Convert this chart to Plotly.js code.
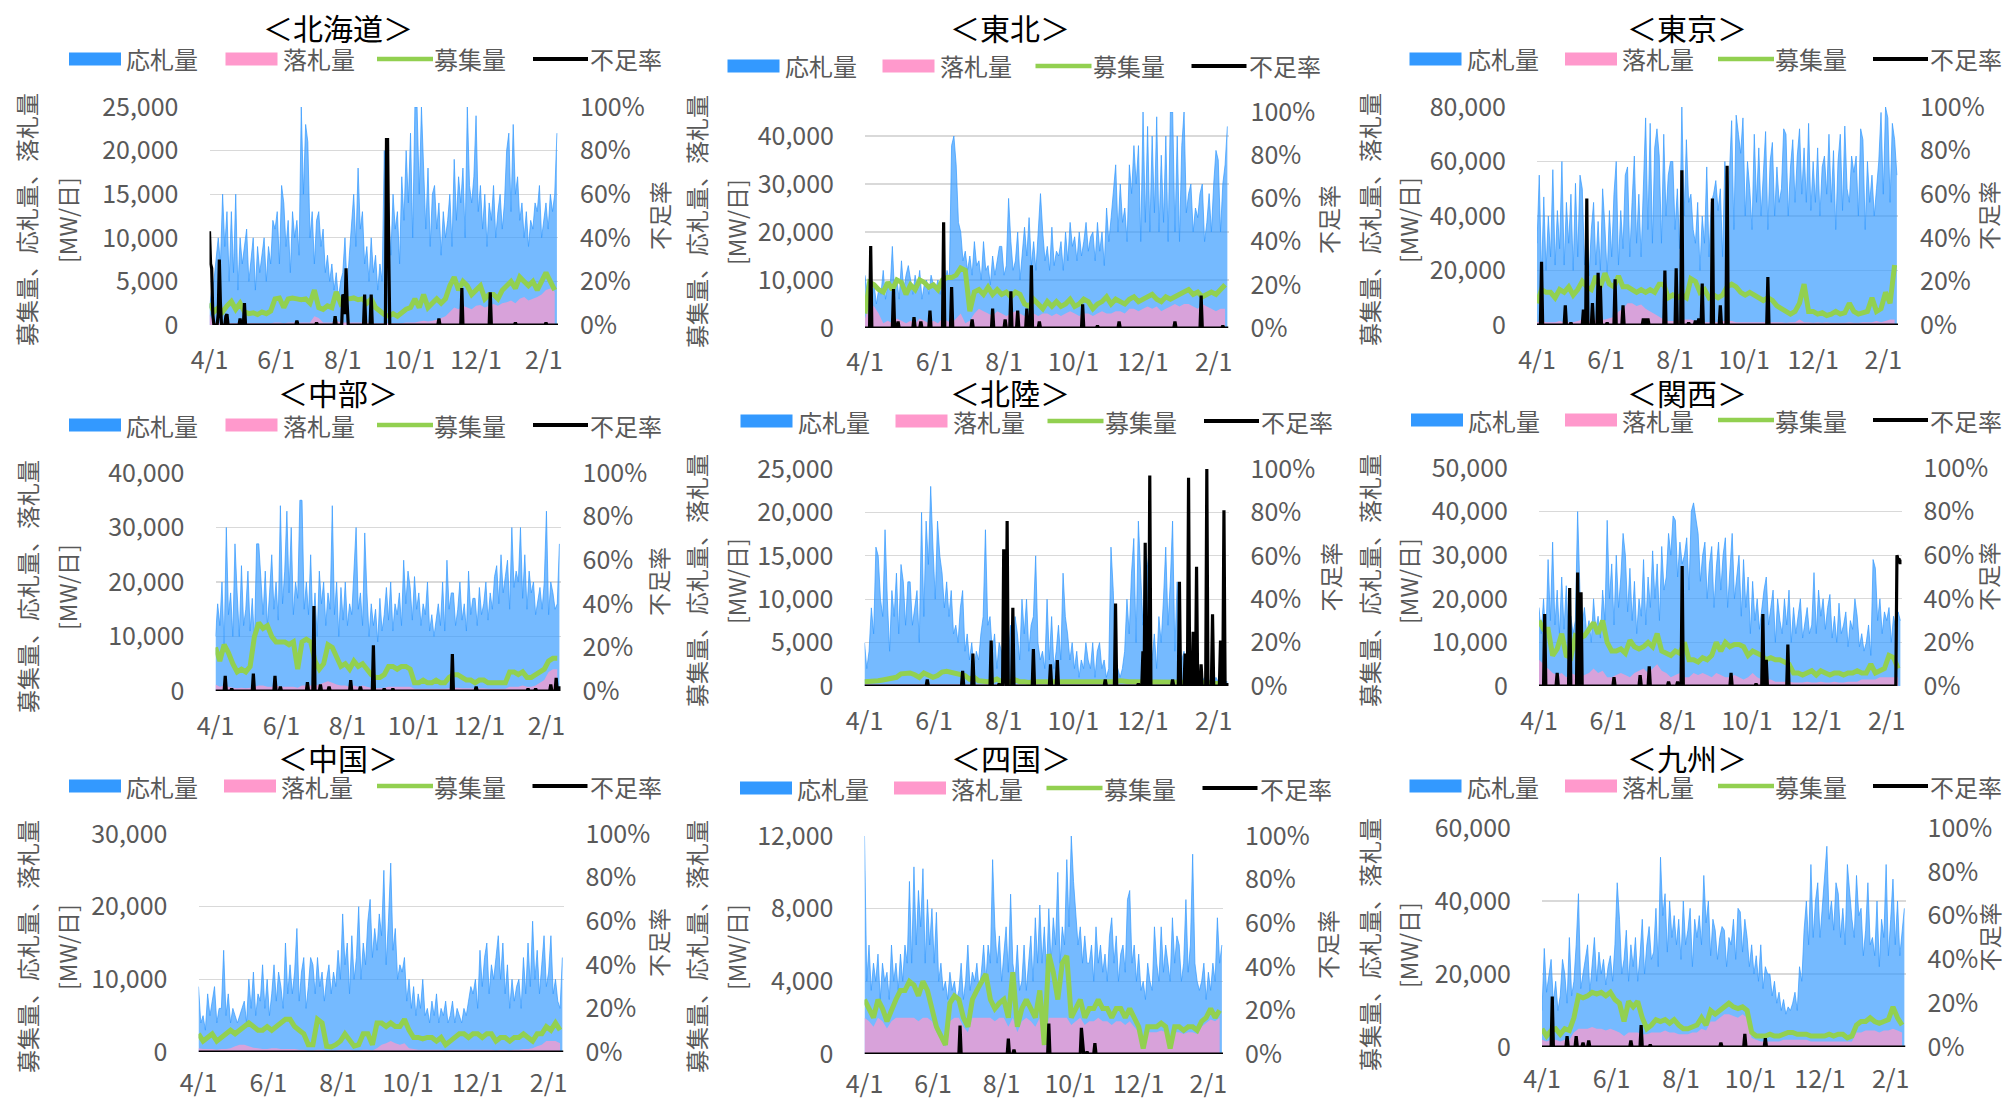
<!DOCTYPE html>
<html>
<head>
<meta charset="utf-8">
<script src="https://cdn.plot.ly/plotly-3.0.1.min.js"></script>
<style>
html,body{margin:0;padding:0;background:#ffffff;}
#chart{width:2009px;height:1099px;}
</style>
</head>
<body>
<div id="chart"></div>
<script>
// ---------------- DATA ----------------
// Period: 2021-04-01 .. 2022-02-14
// *Bid  (応札量)  : thousand MW/day, one value every 2 days from 4/1
// *Award(落札量)  : thousand MW/day, one value every 4 days from 4/1
// *Req  (募集量)  : thousand MW/day, one value every 4 days from 4/1
// *ShortDay / *ShortPct (不足率): days after 4/1 with a non-zero shortage rate, and that rate in %
const periodStart = '2021-04-01';
const periodEnd = '2022-02-14';
const periodDays = 320;
const tickDates = ['2021-04-01','2021-06-01','2021-08-01','2021-10-01','2021-12-01','2022-02-01'];
const tickLabels = ['4/1','6/1','8/1','10/1','12/1','2/1'];
const seriesNames = ['応札量','落札量','募集量','不足率'];
const regionNames = ['北海道','東北','東京','中部','北陸','関西','中国','四国','九州'];
const leftAxisTitle = ['募集量、応札量、落札量','[MW/日]'];
const rightAxisTitle = '不足率';

// 北海道
const hokkaidoBid = [
 2,4,5,8,10,7,15,9,13,5, 13,6,15,4,10,7,9,11,5,8, 10,4,9,6,8,10,5,9,7,12, 11,13,7,16,14,9,12,6,13,10,
 12,8,25,15,23,21,10,13,7,12, 13,9,11,6,8,5,7,4,6,3, 5,6,10,4,8,12,15,9,18,11, 13,7,9,5,10,6,8,4,7,5,
 20,9,14,8,15,11,13,7,17,12, 20,14,22,10,25,25,15,25,18,11, 18,9,15,16,11,14,8,13,10,12, 15,9,19,12,17,14,18,10,25,16,
 14,17,24,13,16,11,15,9,14,12, 16,10,13,15,11,14,20,22,13,23, 15,17,12,14,10,13,9,12,11,14, 13,16,10,12,14,11,15,13,15,22];
const hokkaidoAward = [
 1.2,0.3,0.2,0.2,0.3,0.2,0.2,0.3,0.2,0.2, 0.2,0.2,0.2,0.2,0.2,0.3,0.3,0.2,0.3,0.3,
 0.3,0.3,0.3,0.3,1.0,0.8,0.3,0.3,0.3,0.5, 0.3,0.3,0.3,0.3,0.3,0.3,0.3,0.3,0.2,0.2,
 0.2,0.2,0.2,0.2,0.2,0.3,0.3,0.3,0.4,0.5, 0.4,0.5,0.6,0.8,1.0,1.5,2.0,1.8,2.2,2.0,
 1.8,2.2,2.3,2.0,2.2,2.4,2.2,2.5,2.6,2.8, 2.5,3.0,3.2,2.8,3.0,3.2,3.5,4.0,4.2,3.8];
const hokkaidoReq = [
 2.5,1.5,2.0,1.5,2.2,2.7,1.8,2.5,1.5,1.3, 1.4,1.2,1.5,1.3,1.6,3.0,3.1,2.0,3.0,3.1,
 3.0,2.9,3.0,2.5,4.0,2.0,1.8,2.2,2.0,3.8, 2.5,3.0,3.0,3.1,2.9,3.0,2.5,3.0,2.0,1.5,
 1.2,1.0,1.3,1.0,1.5,1.8,2.0,3.0,2.0,3.5, 2.0,2.5,3.0,2.5,3.0,4.5,5.5,4.0,5.0,4.5,
 3.5,4.0,4.5,3.0,3.5,3.5,3.0,4.0,4.5,5.0, 4.2,5.5,5.0,4.5,5.0,4.0,5.0,6.0,5.0,4.0];
const hokkaidoShortDay = [0,1,2,3,8,9,10,15,16,28,32,80,98,115,122,123,124,125,126,142,148,162,163,164,210,231,257,280,308];
const hokkaidoShortPct = [43,28,26,5,5,30,10,4,5,3,10,2,1,4,14,13,5,26,10,14,14,85,85,35,3,17,15,1,1];

// 東北
const tohokuBid = [
 11,7,10,6,9,5,8,7,12,6, 9,8,17,7,10,6,14,8,11,13, 10,7,11,8,12,6,9,10,7,11, 9,8,10,7,11,9,12,10,38,40,
 34,22,20,14,16,12,15,11,18,13, 14,10,18,12,13,9,15,11,14,17, 17,11,13,27,18,12,14,20,10,15, 21,15,23,13,18,12,19,28,20,14,
 17,12,21,13,16,15,18,12,20,14, 22,17,19,14,20,15,18,22,16,19, 20,14,22,16,20,13,25,18,23,28, 34,20,30,22,25,18,34,28,38,30,
 38,18,45,22,42,20,40,24,44,20, 36,22,40,18,45,45,20,40,18,38, 45,24,28,30,20,25,23,28,30,18, 22,28,20,30,37,35,20,30,34,42];
const tohokuAward = [
 2.0,5.0,4.5,3.0,1.0,1.5,1.0,2.0,1.5,1.0, 1.5,1.0,2.0,1.5,1.0,1.5,1.0,2.0,1.5,1.0,
 2.0,3.0,1.0,1.5,3.0,4.0,3.5,3.0,2.5,3.5, 3.0,2.5,3.0,3.5,3.0,2.5,3.0,3.0,2.5,3.0,
 3.0,2.5,3.0,2.5,3.0,3.5,3.0,2.5,3.0,3.0, 2.5,3.0,3.5,3.0,3.0,3.5,3.5,3.0,4.0,4.0,
 3.5,4.0,4.5,4.0,4.5,3.5,4.0,4.5,5.0,4.5, 5.0,5.0,4.5,4.0,5.0,4.5,4.0,3.5,4.0,4.0];
const tohokuReq = [
 3.0,9.5,9.0,8.0,7.5,9.5,8.0,10.0,9.5,7.0, 9.0,8.0,10.0,9.5,8.5,9.0,8.0,10.0,10.5,10.5,
 11.0,12.5,12.0,3.5,7.5,8.0,7.0,8.5,7.0,8.0, 7.0,7.5,6.5,7.5,7.0,5.0,4.5,6.0,5.0,4.0,
 5.5,4.5,5.5,4.5,5.0,6.0,4.5,5.0,6.0,5.5, 4.0,5.0,5.5,6.5,5.0,6.0,5.5,5.0,6.0,6.5,
 5.5,6.0,6.5,7.0,6.0,5.5,6.5,6.0,6.5,7.0, 7.5,8.0,7.0,7.5,6.5,7.0,7.5,7.0,8.0,9.0];
const tohokuShortDay = [5,25,29,43,49,57,69,76,94,112,123,128,134,142,146,153,191,204,223,272,295,314];
const tohokuShortPct = [38,18,3,5,3,8,49,19,4,9,4,17,8,9,29,3,11,1,3,3,15,1];

// 東京
const tokyoBid = [
 30,55,18,47,20,40,25,57,22,42, 28,60,22,45,30,48,20,52,25,55, 50,22,40,18,35,45,22,38,20,50, 36,18,42,25,48,60,22,42,28,55,
 58,25,45,62,30,48,25,55,76,35, 74,30,65,72,62,30,70,40,55,60, 60,35,50,28,80,40,68,45,48,35, 30,45,20,40,30,58,25,45,48,53,
 42,50,25,60,40,55,75,35,77,70, 63,76,40,60,50,35,70,45,65,40, 55,71,35,60,67,40,58,45,50,72, 70,40,58,68,45,62,72,48,65,45,
 74,42,60,45,65,40,58,62,48,70, 45,64,35,60,70,42,73,50,45,62, 56,62,40,72,68,35,60,45,55,40, 50,60,78,48,80,76,45,74,68,55];
const tokyoAward = [
 1,1.5,1,1,1,1.5,1,1,1,1.5, 2,1.5,1.5,2,2,2,2.5,3,5,6,
 8,8,7,7.5,6,5,4,3,2,1.5, 1.5,1.5,2,2,2,1.5,1,1,1,1,
 1,1.5,1.5,1.5,1,1,1,1,1,1, 1,1,1,1,1,0.8,1,1,2,1,
 1,0.8,1,0.8,1,0.8,0.8,0.8,0.8,1, 0.8,0.8,1,1,1,1.5,1,1.5,2,2];
const tokyoReq = [
 8,13,12,12,10,13,12,14,11,13, 16,14,13,18,14,19,15,14,18,14,
 14,13,12,13,12,13,12,15,15,10, 11,10,11,10,17,16,12,13,10,11,
 10,11,14,15,14,12,11,12,11,10, 9,10,9,7,6,4.5,4,5,8,15,
 5,5,4,4.5,3.5,4,5,4,4.5,8, 5,4,4.5,5,10,5,6,12,8,22];
const tokyoShortDay = [4,25,30,41,44,49,54,56,62,69,76,94,96,98,113,123,128,134,140,143,146,155,162,168,204];
const tokyoShortPct = [29,9,1,7,58,10,24,18,1,21,9,3,3,3,25,26,71,1,2,3,19,58,9,73,22];

// 中部
const chubuBid = [
 10,16,12,20,8,30,14,18,10,27, 18,10,23,12,15,22,11,17,9,27, 27,20,14,22,12,18,25,15,20,13, 34,16,22,33,18,30,14,20,17,35,
 35,15,20,14,25,12,18,10,22,16, 20,12,18,15,34,14,20,10,19,13, 20,12,16,14,22,30,15,18,12,29, 18,10,16,12,15,9,17,11,14,19,
 13,20,11,16,14,18,12,24,16,22, 19,13,21,15,18,12,16,14,20,11, 14,10,13,16,12,20,11,24,15,18, 18,12,15,20,13,16,11,22,14,17,
 17,12,19,14,16,20,13,18,15,21, 23,16,25,18,21,24,15,30,19,22, 20,30,17,25,15,22,18,20,14,17, 19,15,20,33,14,20,18,15,16,27];
const chubuAward = [
 1.2,0.8,1.0,0.8,0.6,0.5,0.6,0.5,0.6,0.8, 1.0,1.0,0.8,0.8,1.0,0.8,0.8,0.8,0.8,0.6,
 1.0,1.0,1.0,1.0,1.2,1.5,1.8,1.5,1.2,1.0, 1.0,0.8,1.0,0.8,1.0,0.8,0.6,0.5,0.5,0.6,
 0.8,0.8,0.8,0.8,0.8,0.8,0.4,0.4,0.4,0.4, 0.4,0.4,0.4,0.4,0.5,0.6,0.6,0.5,0.5,0.5,
 0.4,0.5,0.5,0.4,0.4,0.4,0.4,0.4,0.8,0.8, 0.8,1.0,0.8,0.8,1.0,1.5,2.0,3.5,4.0,4.0];
const chubuReq = [
 8.0,5.5,8.5,7.0,5.0,3.5,4.0,3.5,4.5,10.0, 12.5,11.5,12.0,10.0,9.0,9.0,9.0,8.5,9.0,4.0,
 9.0,9.5,9.0,5.5,4.0,5.0,8.5,8.0,6.0,4.5, 5.0,4.0,5.5,4.5,5.0,4.0,3.0,2.5,2.5,3.0,
 4.5,4.5,4.0,4.5,4.5,4.0,1.5,1.5,2.0,1.5, 1.5,2.0,1.5,1.5,2.5,3.0,3.0,2.5,2.0,2.0,
 1.5,2.0,2.0,1.5,1.5,1.5,1.5,1.5,3.5,3.5, 3.0,3.5,2.5,2.5,3.0,3.5,4.0,5.5,6.0,6.0];
const chubuShortDay = [9,15,35,55,60,85,91,97,105,125,134,146,156,164,219,241,289,296,310,315,318];
const chubuShortPct = [7,1,8,7,2,4,39,3,2,5,2,21,1,1,17,2,1,1,3,6,2];

// 北陸
const hokurikuBid = [
 5,2,4,9,6,16,15,10,8,18, 10,4,11,8,13,6,14,12,7,12, 12,7,9,11,5,20,8,19,14,23, 16,10,19,15,13,9,12,8,11,6,
 7,5,9,11,4,6,3,5,2,4, 3,6,8,18,7,8,4,6,2,5, 4,2,5,3,7,4,8,6,3,10, 6,10,4,7,8,15,5,3,4,2,
 10,3,8,2,4,7,3,13,8,6, 3,5,2,4,1,3,2,5,3,2, 5,1,4,5,2,3,1,2,16,11, 3,2,1,2,4,10,6,13,17,5,
 19,13,7,16,14,4,3,6,2,8, 5,10,16,7,12,19,4,12,5,3, 4,2,3,1,2,1,2,1,0.5,1, 1,0.5,1,0.5,1,0.5,0.5,1,0.5,0.5];
const hokurikuAward = [
 0.2,0.2,0.2,0.2,0.2,0.2,0.2,0.2,0.2,0.2, 0.2,0.2,0.2,0.2,0.2,0.2,0.2,0.2,0.2,0.2,
 0.2,0.2,0.2,0.2,0.2,0.2,0.2,0.2,0.2,0.2, 0.2,0.2,0.2,0.2,0.2,0.2,0.2,0.2,0.2,0.2,
 0.2,0.2,0.2,0.2,0.2,0.2,0.2,0.2,0.2,0.2, 0.2,0.2,0.2,0.2,0.2,0.2,0.2,0.2,0.2,0.2,
 0.2,0.2,0.2,0.2,0.2,0.2,0.2,0.2,0.2,0.2, 0.2,0.2,0.2,0.2,0.2,0.2,0.2,0.2,0.2,0.2];
const hokurikuReq = [
 0.5,0.5,0.5,0.6,0.7,0.8,0.8,1.0,1.4,1.5, 1.5,1.3,1.0,1.5,1.3,1.0,1.2,1.6,1.7,1.6,
 1.5,1.4,1.2,0.8,1.0,0.6,0.5,0.5,0.6,0.8, 0.5,0.5,0.5,0.7,0.5,0.5,0.4,0.5,0.5,0.5,
 0.5,0.4,0.5,0.5,0.4,0.5,0.5,0.5,0.4,0.5, 0.5,0.5,0.4,0.5,0.5,0.5,0.6,0.5,0.5,0.5,
 0.5,0.5,0.4,0.5,0.5,0.5,0.5,0.4,0.5,0.5, 0.4,0.5,0.5,0.4,0.4,0.4,0.3,0.3,0.3,0.3];
const hokurikuShortDay = [55,86,95,111,118,122,123,125,130,148,163,169,211,220,240,244,246,250,270,276,281,284,288,291,295,300,305,312,315,318];
const hokurikuShortPct = [3,7,15,21,1,63,10,76,36,17,10,12,3,38,1,16,66,97,3,48,15,96,25,55,10,100,33,21,81,1];

// 関西
const kansaiBid = [
 18,12,20,10,29,15,33,14,22,12, 25,13,23,10,16,12,15,40,22,14, 18,12,15,10,20,13,16,11,22,15, 38,20,28,14,30,18,25,35,30,17,
 27,15,24,12,20,16,29,14,25,18, 31,20,28,15,32,22,25,35,30,39, 38,25,33,28,30,34,22,40,42,38, 35,24,30,33,20,28,32,18,27,33,
 22,30,34,18,28,35,20,26,30,16, 29,18,25,12,24,15,20,13,18,22, 25,14,18,22,10,20,15,12,20,14, 22,10,18,12,16,20,11,15,18,12,
 14,26,12,22,16,20,13,18,21,11, 16,10,19,12,14,17,9,15,13,20, 16,9,12,8,10,14,7,29,27,15, 20,12,17,15,18,10,16,13,17,15];
const kansaiAward = [
 6,5,4,3,2.5,3,2,3,2.5,2, 2.5,3,4,3,3.5,2,2,2.5,3,2.5,
 2,3,3.5,4,3,4,5,3.5,3,2, 2.5,3,2,2,3,2.5,3,2.5,2,3,
 2.5,2,2,2.5,2,1.5,2,3,2,1.5, 1.5,1.5,1,1,1,1,0.8,0.8,0.8,1,
 0.8,0.8,1,0.8,0.8,1,0.8,0.8,1,1, 1,1.5,1.5,1.5,1.5,2,2,2,2,2];
const kansaiReq = [
 15,13,13,7,8.5,12,7,6.5,11.5,11, 11.5,13,14.5,12,15,10,8,8,8.5,7.5,
 10.5,9,8.5,9,10,9,12,8,7.5,7, 8,7.5,10,6,6,5.5,6.5,6,7,10,
 8,10,9,9.5,9.5,9,7,8,7.5,7, 6,6.5,6,6,5.5,5,3,3,2.5,3,
 3.5,2.5,3.5,3,2.5,3,3,2.5,3,3, 3.5,3,3,5,3,3.5,4,7,6.5,4];
const kansaiShortDay = [5,16,27,34,37,66,89,97,114,122,126,169,191,197,200,219,315,316,317,318,319];
const kansaiShortPct = [33,6,45,52,43,4,5,9,2,2,55,6,1,33,12,19,60,58,58,56,58];

// 中国
const chugokuBid = [
 9,4,5,3,8,5,7,9,4,6, 6,14,5,8,4,6,5,4,5,6, 7,4,10,6,11,5,8,7,12,6, 10,5,8,12,7,11,9,6,15,8,
 12,8,11,17,7,11,13,6,9,13, 12,8,13,9,11,7,10,12,8,11, 9,14,10,19,12,15,8,16,10,13, 20,10,15,12,18,21,13,17,14,19,
 16,25,12,18,26,14,17,10,12,11, 13,7,10,6,9,5,8,6,10,5, 6,4,7,5,8,4,6,5,7,4, 5,7,4,6,5,4,6,5,7,9,
 8,10,6,14,9,13,15,8,12,10, 13,16,10,15,8,12,6,10,7,9, 10,6,13,8,15,9,18,10,14,8, 12,16,9,11,16,8,10,7,6,13];
const chugokuAward = [
 0.5,0.4,0.4,0.4,0.3,0.4,0.4,0.5,0.8,1.0, 1.0,0.8,0.6,0.5,0.4,0.4,0.5,0.5,0.4,0.4,
 0.4,0.4,0.3,0.3,0.2,0.2,0.3,0.3,0.2,0.2, 0.2,0.3,0.3,0.3,0.2,0.2,0.3,0.3,0.2,0.5,
 1.0,1.2,1.5,1.2,1.0,1.2,0.5,0.4,0.3,0.3, 0.3,0.3,0.3,0.3,0.2,0.3,0.3,0.3,0.3,0.3,
 0.3,0.3,0.3,0.3,0.3,0.2,0.3,0.3,0.2,0.3, 0.3,0.4,0.4,0.5,0.8,1.0,1.5,1.5,1.5,1.2];
const chugokuReq = [
 2.5,1.5,2.0,2.5,1.5,2.0,2.5,3.0,2.5,3.0, 3.5,4.0,3.5,3.0,3.0,3.5,3.0,3.5,4.0,4.5,
 4.5,3.5,3.0,2.5,1.0,1.0,4.5,4.0,0.8,0.7, 1.0,1.5,2.5,1.5,0.8,1.0,2.5,2.5,1.0,4.0,
 4.0,3.5,4.0,3.5,3.5,4.5,3.0,2.0,2.0,1.8, 2.0,2.0,1.5,2.0,1.0,1.5,2.0,2.5,2.5,2.0,
 2.5,2.5,2.0,2.5,2.5,1.5,2.0,2.0,1.5,2.0, 2.0,2.5,2.0,1.5,2.5,2.5,3.5,3.0,4.0,3.0];
const chugokuShortDay = [];
const chugokuShortPct = [];

// 四国
const shikokuBid = [
 12,4,6,3.5,5,4,5.5,3,5,4, 4.5,3,6,4,5,3.5,5.5,4,6,5, 9.5,5,10.3,6,9,7,10.2,5,8.5,6, 8,5,7.8,4,5,3.5,4,3,4.5,3.5,
 4,3,3.5,5,3,4,6,3.5,4.5,4, 5,3.5,4.5,6,4,6,5,10.7,7,5, 6.5,4,5.5,7,4.5,8.8,5,4,6,3.5, 4,6,3.5,5,6.5,4,7.5,5,8.2,5,
 7,4.5,8,5,7.5,6,10,5,7,6, 10.7,7,12,9.5,8,6,7,5,6.5,5, 5,6,4,7,5,6,4.5,5.5,4,6.5, 7.5,5,6.5,4,5.5,6,4.5,8.5,9,5,
 6,4,5.5,3.5,4,3,5,4,3.5,7, 5,4,7,4.5,6,5,4,7.5,5,6.5, 6,4,5,8.5,4.5,6,11,5,4,3.5, 4,5,3,4.5,3.5,5,4,7.5,5,6];
const shikokuAward = [
 2.0,1.8,1.5,2.0,1.8,1.4,1.8,2.0,2.0,2.0, 2.0,2.0,1.8,2.0,2.0,1.8,1.2,0.8,0.4,1.8,
 2.0,2.0,1.5,1.2,2.0,2.0,2.0,2.0,2.0,1.8, 2.0,2.0,1.5,2.0,1.2,1.8,2.0,1.8,1.5,2.0,
 0.4,2.0,2.0,2.0,2.0,2.0,1.6,1.8,2.0,1.6, 1.8,1.8,2.0,1.8,1.8,1.6,1.8,1.8,1.6,1.8,
 1.5,1.2,0.3,1.2,1.2,1.2,1.3,1.2,0.3,1.2, 1.2,1.1,1.2,1.2,1.1,1.5,1.7,1.9,1.8,2.0];
const shikokuReq = [
 3.0,2.5,2.0,3.0,2.5,1.8,2.5,3.0,3.5,3.5, 4.0,3.8,3.2,4.0,3.5,2.5,1.5,1.0,0.5,2.8,
 3.2,3.0,2.0,1.5,3.0,3.5,4.0,4.4,3.0,2.5, 2.8,3.0,2.0,4.5,1.5,2.5,3.0,2.5,2.0,3.5,
 0.5,5.5,4.5,3.0,5.0,5.4,2.0,2.5,3.0,2.0, 2.5,2.5,3.0,2.5,2.5,2.0,2.5,2.5,2.0,2.5,
 2.0,1.5,0.3,1.5,1.5,1.5,1.7,1.5,0.3,1.5, 1.5,1.3,1.5,1.5,1.3,1.8,2.0,2.5,2.0,2.4];
const shikokuShortDay = [85,128,133,164,193,194,198,205];
const shikokuShortPct = [13,7,2,14,12,3,1,5];

// 九州
const kyushuBid = [
 10,27,15,20,24,12,18,10,14,24, 20,12,30,14,18,28,42,16,20,25, 28,15,22,30,18,26,20,24,17,22, 25,18,28,45,35,20,24,32,18,28,
 22,30,18,25,35,20,28,33,24,26, 38,22,52,36,42,26,40,30,36,28, 35,24,40,28,32,38,22,35,30,36, 28,47,34,40,25,35,32,24,30,33,
 32,22,30,28,35,24,38,37,26,35, 30,22,28,20,25,18,28,16,22,20, 20,14,18,12,15,10,13,9,11,10, 12,15,10,22,18,32,40,28,50,30,
 40,45,30,38,48,55,35,40,32,45, 42,30,38,28,50,42,35,30,47,36, 38,25,32,45,28,30,25,40,22,35, 30,50,25,35,46,28,40,25,32,38];
const kyushuAward = [
 2,1.5,2,2,1.5,2,2,4,5,5, 5,5.5,5,5,4.5,5,4.5,4,3,4,
 4,4,3.5,3.5,4,4,4,4.5,4,4, 3.5,3.5,3.5,4,4,5,4.5,7,7,8,
 9,9,8.5,8,9,8,2.5,2,1.5,1.5, 1.5,1.5,1.5,2,2,2,2,2,2,1.5,
 1.5,1.5,1.5,1.5,1.5,1.5,1.5,1.5,1.5,4, 4,4.5,4.5,4.5,4,4.5,4.5,5,4.5,4];
const kyushuReq = [
 5,3,4.5,5,3.5,5,4.5,8,14,13.5, 14,15,14.5,15,14,15,13,12,7,12.5,
 11,12.5,8,5,6,7.5,7,7.5,6.5,7.5, 6,5,5,5.5,6,8,6,10,9,10,
 11,12,11,10.5,11,10,4,3,3,3, 3.5,3,3,3.5,4,4,3.5,3.5,3.5,3,
 3,3,3,3.5,3,3.5,3.5,2.5,3,6, 7,7,8,7,6.5,7,7.5,11,8,6];
const kyushuShortDay = [9,22,30,36,41,78,87,95,157,178,196];
const kyushuShortPct = [23,5,5,2,3,3,10,1,2,6,4];

const regions = [
 {bid:hokkaidoBid, award:hokkaidoAward, req:hokkaidoReq, sd:hokkaidoShortDay, sp:hokkaidoShortPct},
 {bid:tohokuBid,   award:tohokuAward,   req:tohokuReq,   sd:tohokuShortDay,   sp:tohokuShortPct},
 {bid:tokyoBid,    award:tokyoAward,    req:tokyoReq,    sd:tokyoShortDay,    sp:tokyoShortPct},
 {bid:chubuBid,    award:chubuAward,    req:chubuReq,    sd:chubuShortDay,    sp:chubuShortPct},
 {bid:hokurikuBid, award:hokurikuAward, req:hokurikuReq, sd:hokurikuShortDay, sp:hokurikuShortPct},
 {bid:kansaiBid,   award:kansaiAward,   req:kansaiReq,   sd:kansaiShortDay,   sp:kansaiShortPct},
 {bid:chugokuBid,  award:chugokuAward,  req:chugokuReq,  sd:chugokuShortDay,  sp:chugokuShortPct},
 {bid:shikokuBid,  award:shikokuAward,  req:shikokuReq,  sd:shikokuShortDay,  sp:shikokuShortPct},
 {bid:kyushuBid,   award:kyushuAward,   req:kyushuReq,   sd:kyushuShortDay,   sp:kyushuShortPct}
];
const axisMax = [25000,45000,80000,40000,25000,50000,30000,12000,60000];
const axisStep = [5000,10000,20000,10000,5000,10000,10000,4000,20000];

// ---------------- LAYOUT (pixel geometry) ----------------
const W = 2009, H = 1099;
const panels = [
 {plot:[209.5,107,558,325],   title:[338,27],    leg:[69,225.5,377,533],        legY:59,  yt:[26,67],       ytY:220, rt:659,  xs:18},
 {plot:[865,112,1228.5,328],  title:[1009.5,27], leg:[727.5,882.5,1035.5,1191.5],legY:66, yt:[696,736],     ytY:222, rt:1328, xs:17},
 {plot:[1537,107,1898,325],   title:[1687,27],   leg:[1409.5,1565,1718,1873],   legY:59,  yt:[1369,1408],   ytY:220, rt:1988, xs:18},
 {plot:[215.5,473,560.5,691], title:[338,392],   leg:[69,225.5,377,533],        legY:425, yt:[27,67],       ytY:587, rt:658,  xs:18},
 {plot:[864.5,469,1228.5,686],title:[1009.5,392],leg:[740.5,895.5,1047.5,1204], legY:421, yt:[696,736],     ytY:581, rt:1329, xs:18},
 {plot:[1539,468,1901.5,686], title:[1687,392],  leg:[1411,1565,1718,1873],     legY:420, yt:[1369,1408],   ytY:581, rt:1988, xs:18},
 {plot:[198.5,834,563.5,1052],title:[338,757],   leg:[69,224,377,532.5],        legY:786, yt:[27,67],       ytY:947, rt:658,  xs:14},
 {plot:[864.5,836,1223,1054], title:[1011.5,757],leg:[740,894,1046.5,1202.5],   legY:788, yt:[696,736],     ytY:947, rt:1327, xs:13},
 {plot:[1542,828,1905.5,1047],title:[1687,757],  leg:[1409.5,1565,1718,1873],   legY:786, yt:[1369,1408],   ytY:945, rt:1988, xs:15}
];
const C = {
 bidLine:'#3399FF', bidFill:'rgba(51,153,255,0.68)', bidLegend:'#3399FF',
 awardFill:'rgba(255,153,204,0.72)', awardLegend:'#FF99CC',
 req:'#92D050', short:'#000000', grid:'#D9D9D9', text:'#595959'
};
const FONT = 'Noto Sans CJK JP, Noto Sans, sans-serif';
const px = x => x / W;
const py = y => 1 - y / H;

function dayToDate(d) {
  const t = Date.UTC(2021, 3, 1) + d * 86400000;
  return new Date(t).toISOString().slice(0, 10);
}

const traces = [];
const layout = {
  width: W, height: H, autosize: false,
  margin: {l:0, r:0, t:0, b:0, pad:0},
  paper_bgcolor: '#ffffff', plot_bgcolor: 'rgba(0,0,0,0)',
  showlegend: false,
  font: {family: FONT, size: 24, color: C.text},
  annotations: [], shapes: []
};

regions.forEach((r, k) => {
  const n = k + 1;
  const sfx = n === 1 ? '' : String(n);
  const xName = 'x' + sfx, yName = 'y' + sfx, y2Name = 'y' + (n + 9);
  const p = panels[k];

  const bidX = r.bid.map((_, i) => dayToDate(i * 2));
  const reqX = r.req.map((_, i) => dayToDate(i * 4));
  const awX = r.award.map((_, i) => dayToDate(i * 4));
  const dailyX = [], shortY = [];
  for (let d = 0; d < periodDays; d++) { dailyX.push(dayToDate(d)); shortY.push(0); }
  r.sd.forEach((d, i) => { shortY[d] = r.sp[i] / 100; });

  traces.push({
    type:'scatter', mode:'lines', name:seriesNames[0], x:bidX, y:r.bid.map(v => v * 1000),
    xaxis:xName, yaxis:yName, fill:'tozeroy', fillcolor:C.bidFill,
    line:{color:C.bidLine, width:0.7}, hoverinfo:'skip'
  });
  traces.push({
    type:'scatter', mode:'none', name:seriesNames[1], x:awX, y:r.award.map(v => v * 1000),
    xaxis:xName, yaxis:yName, fill:'tozeroy', fillcolor:C.awardFill, hoverinfo:'skip'
  });
  traces.push({
    type:'scatter', mode:'lines', name:seriesNames[2], x:reqX, y:r.req.map(v => v * 1000),
    xaxis:xName, yaxis:yName, line:{color:C.req, width:5}, cliponaxis:false, hoverinfo:'skip'
  });
  traces.push({
    type:'scatter', mode:'lines', name:seriesNames[3], x:dailyX, y:shortY,
    xaxis:xName, yaxis:y2Name, line:{color:C.short, width:3.2}, cliponaxis:false, hoverinfo:'skip'
  });

  const tickFont = {family:FONT, size:25, color:C.text};
  layout['xaxis' + sfx] = {
    domain:[px(p.plot[0]), px(p.plot[2])], anchor:yName, type:'date',
    range:[periodStart, periodEnd], tickmode:'array', tickvals:tickDates, ticktext:tickLabels,
    showgrid:false, zeroline:false, showline:false, ticks:'', ticklabelstandoff:p.xs,
    tickfont:tickFont, fixedrange:true
  };
  layout['yaxis' + sfx] = {
    domain:[py(p.plot[3]), py(p.plot[1])], anchor:xName,
    range:[0, axisMax[k]], tick0:0, dtick:axisStep[k], tickformat:',d',
    showgrid:true, gridcolor:C.grid, gridwidth:1.3, zeroline:false, showline:false,
    ticks:'', ticklabelstandoff:30, tickfont:tickFont, fixedrange:true
  };
  layout['yaxis' + (n + 9)] = {
    overlaying:yName, anchor:xName, side:'right',
    range:[0, 1], tick0:0, dtick:0.2, tickformat:'.0%',
    showgrid:false, zeroline:false, showline:false,
    ticks:'', ticklabelstandoff:21, tickfont:tickFont, fixedrange:true
  };

  // panel title
  layout.annotations.push({
    text:'＜' + regionNames[k] + '＞', xref:'paper', yref:'paper',
    x:px(p.title[0]), y:py(p.title[1]), xanchor:'center', yanchor:'middle', borderpad:0,
    showarrow:false, font:{family:FONT, size:30, color:'#000000'}
  });
  // left axis title (two lines)
  leftAxisTitle.forEach((t, j) => {
    layout.annotations.push({
      text:t, xref:'paper', yref:'paper', x:px(p.yt[j]), y:py(p.ytY),
      xanchor:'center', yanchor:'middle', textangle:-90, showarrow:false, borderpad:0,
      font:{family:FONT, size:23, color:C.text}
    });
  });
  // right axis title
  layout.annotations.push({
    text:rightAxisTitle, xref:'paper', yref:'paper', x:px(p.rt), y:py((p.plot[1] + p.plot[3]) / 2),
    xanchor:'center', yanchor:'middle', textangle:-90, showarrow:false, borderpad:0,
    font:{family:FONT, size:23, color:C.text}
  });
  // legend
  const ly = p.legY;
  layout.shapes.push({type:'rect', xref:'paper', yref:'paper',
    x0:px(p.leg[0]), x1:px(p.leg[0] + 52), y0:py(ly + 6.5), y1:py(ly - 6.5),
    fillcolor:C.bidLegend, line:{width:0}});
  layout.shapes.push({type:'rect', xref:'paper', yref:'paper',
    x0:px(p.leg[1]), x1:px(p.leg[1] + 52), y0:py(ly + 6.5), y1:py(ly - 6.5),
    fillcolor:C.awardLegend, line:{width:0}});
  layout.shapes.push({type:'line', xref:'paper', yref:'paper',
    x0:px(p.leg[2]), x1:px(p.leg[2] + 56), y0:py(ly), y1:py(ly),
    line:{color:C.req, width:4.5}});
  layout.shapes.push({type:'line', xref:'paper', yref:'paper',
    x0:px(p.leg[3]), x1:px(p.leg[3] + 55), y0:py(ly), y1:py(ly),
    line:{color:C.short, width:4}});
  seriesNames.forEach((nm, j) => {
    layout.annotations.push({
      text:nm, xref:'paper', yref:'paper', x:px(p.leg[j] + 56), y:py(ly),
      xanchor:'left', yanchor:'middle', showarrow:false, borderpad:0,
      font:{family:FONT, size:24, color:C.text}
    });
  });
});

Plotly.newPlot('chart', traces, layout, {displayModeBar:false, staticPlot:true});
</script>
</body>
</html>
